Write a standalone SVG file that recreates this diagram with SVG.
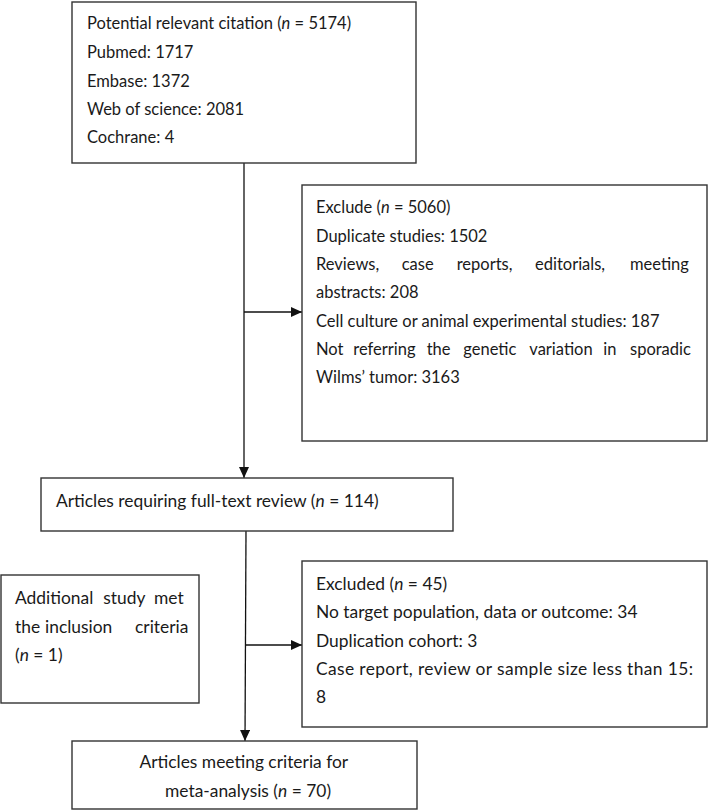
<svg xmlns="http://www.w3.org/2000/svg" width="709" height="810" viewBox="0 0 709 810">
<defs>
<marker id="arr" markerUnits="userSpaceOnUse" markerWidth="12" markerHeight="10" refX="11" refY="5" orient="auto">
<path d="M0,0 L11,5 L0,10 Z" fill="#111"/>
</marker>
<style>
.box{fill:#fff;stroke:#333;stroke-width:1.4}
.t{font-family:Lato,"Open Sans","Liberation Sans",sans-serif;font-size:16.5px;fill:#1a1a1a}
.l{font-size:17.4px}
.i{font-style:italic}
.c{stroke:#111;stroke-width:1.3;fill:none}
</style>
</defs>
<rect width="709" height="810" fill="#fff"/>
<g id="connectors">
<line class="c" x1="244" y1="163" x2="244" y2="478" marker-end="url(#arr)"/>
<line class="c" x1="244" y1="312" x2="302" y2="312" marker-end="url(#arr)"/>
<line class="c" x1="246" y1="531" x2="245" y2="741" marker-end="url(#arr)"/>
<line class="c" x1="245" y1="645" x2="302" y2="645" marker-end="url(#arr)"/>
</g>
<g id="node-citations">
<rect class="box" x="72" y="2" width="344" height="161"/>
<text class="t" x="87" y="29">Potential relevant citation (<tspan class="i">n</tspan> = 5174)</text>
<text class="t" x="87" y="58">Pubmed: 1717</text>
<text class="t" x="87" y="87">Embase: 1372</text>
<text class="t" x="87" y="115">Web of science: 2081</text>
<text class="t" x="87" y="143">Cochrane: 4</text>
</g>
<g id="node-exclude">
<rect class="box" x="302" y="185" width="405" height="256"/>
<text class="t" x="316" y="213">Exclude (<tspan class="i">n</tspan> = 5060)</text>
<text class="t" x="316" y="242">Duplicate studies: 1502</text>
<text class="t" y="270"><tspan x="316">Reviews,</tspan><tspan x="401.7">case</tspan><tspan x="456.7">reports,</tspan><tspan x="535">editorials,</tspan><tspan x="630">meeting</tspan></text>
<text class="t" x="316" y="298">abstracts: 208</text>
<text class="t" x="316" y="327">Cell culture or animal experimental studies: 187</text>
<text class="t" y="355"><tspan x="316">Not</tspan><tspan x="353.3">referring</tspan><tspan x="426.7">the</tspan><tspan x="463.3">genetic</tspan><tspan x="529.3">variation</tspan><tspan x="603.3">in</tspan><tspan x="630">sporadic</tspan></text>
<text class="t" x="316" y="383">Wilms’ tumor: 3163</text>
</g>
<g id="node-fulltext">
<rect class="box" x="41" y="478" width="412" height="53"/>
<text class="t l" x="56" y="507">Articles requiring full-text review (<tspan class="i">n</tspan> = 114)</text>
</g>
<g id="node-additional">
<rect class="box" x="1" y="575" width="198" height="128"/>
<text class="t l" y="604"><tspan x="15">Additional</tspan><tspan x="103.3">study</tspan><tspan x="154">met</tspan></text>
<text class="t l" y="633"><tspan x="15">the</tspan><tspan x="45">inclusion</tspan><tspan x="135">criteria</tspan></text>
<text class="t l" x="15" y="661">(<tspan class="i">n</tspan> = 1)</text>
</g>
<g id="node-excluded">
<rect class="box" x="302" y="561" width="405" height="166"/>
<text class="t l" x="316" y="590">Excluded (<tspan class="i">n</tspan> = 45)</text>
<text class="t l" x="316" y="618">No target population, data or outcome: 34</text>
<text class="t l" x="316" y="647">Duplication cohort: 3</text>
<text class="t l" x="316" y="675" textLength="377" lengthAdjust="spacing">Case report, review or sample size less than 15:</text>
<text class="t l" x="316" y="703">8</text>
</g>
<g id="node-final">
<rect class="box" x="72" y="741" width="345" height="68"/>
<text class="t l" x="139.5" y="768">Articles meeting criteria for</text>
<text class="t l" x="165" y="797">meta-analysis (<tspan class="i">n</tspan> = 70)</text>
</g>
</svg>
